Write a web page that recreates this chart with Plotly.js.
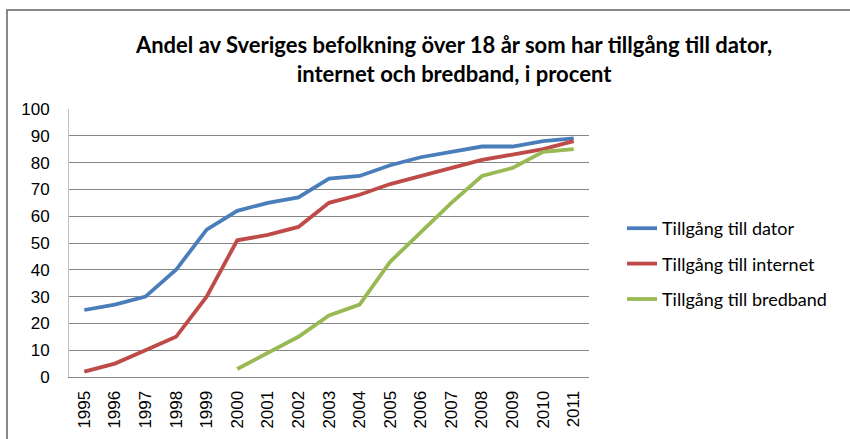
<!DOCTYPE html>
<html>
<head>
<meta charset="utf-8">
<script src="https://cdn.plot.ly/plotly-3.0.1.min.js"></script>
<style>html,body{margin:0;padding:0;background:#fff;}#chart{width:850px;height:439px;}</style>
</head>
<body>
<div id="chart"></div>
<script>
const years = ["1995","1996","1997","1998","1999","2000","2001","2002","2003","2004","2005","2006","2007","2008","2009","2010","2011"];
const dator = [25, 27, 30, 40, 55, 62, 65, 67, 74, 75, 79, 82, 84, 86, 86, 88, 89];
const internet = [2, 5, 10, 15, 30, 51, 53, 56, 65, 68, 72, 75, 78, 81, 83, 85, 88];
const bredbandYears = ["2000","2001","2002","2003","2004","2005","2006","2007","2008","2009","2010","2011"];
const bredband = [3, 9, 15, 23, 27, 43, 54, 65, 75, 78, 84, 85];
const seriesNames = ["Tillgång till dator", "Tillgång till internet", "Tillgång till bredband"];
const yTicks = [0,10,20,30,40,50,60,70,80,90,100];

const traces = [
  {x: years, y: dator, name: seriesNames[0], legendgroup: "a", line: {color: "#4A7EBB", width: 3.8}},
  {x: years, y: internet, name: seriesNames[1], legendgroup: "b", line: {color: "#BE4B48", width: 3.8}},
  {x: bredbandYears, y: bredband, name: seriesNames[2], legendgroup: "c", line: {color: "#98B954", width: 3.8}}
].map(t => Object.assign({type: "scatter", mode: "lines", hoverinfo: "skip"}, t));

const layout = {
  width: 850, height: 439,
  paper_bgcolor: "#ffffff", plot_bgcolor: "#ffffff",
  margin: {l: 69, r: 261, t: 109, b: 62},
  title: {
    text: "Andel av Sveriges befolkning över 18 år som har tillgång till dator,<br>internet och bredband, i procent",
    font: {family: "Lato, 'Open Sans', sans-serif", size: 22, color: "#000", weight: "bold"},
    x: 454/850, xref: "container", xanchor: "center",
    y: 1 - 53/439, yref: "container", yanchor: "top"
  },
  xaxis: {
    type: "category", categoryorder: "array", categoryarray: years,
    range: [-0.5, years.length - 0.5],
    tickangle: -90, showgrid: false, zeroline: false,
    showline: true, linecolor: "#868686", linewidth: 1,
    ticks: "", ticklabelstandoff: 6,
    tickfont: {family: "'Liberation Sans', Arial, sans-serif", size: 17, color: "#000"},
    fixedrange: true
  },
  yaxis: {
    range: [0, 100], tickvals: yTicks, ticktext: yTicks.map(String),
    showgrid: true, gridcolor: "#868686", gridwidth: 1,
    zeroline: false, showline: true, linecolor: "#BFBFBF", linewidth: 1,
    ticks: "", ticklabelstandoff: 15,
    tickfont: {family: "'Liberation Sans', Arial, sans-serif", size: 17, color: "#000"},
    fixedrange: true
  },
  showlegend: true,
  legend: {
    x: 622/850, xref: "container", xanchor: "left",
    y: 1 - 210/439, yref: "container", yanchor: "top",
    font: {family: "Lato, 'Open Sans', sans-serif", size: 18, color: "#000"},
    tracegroupgap: 9, traceorder: "grouped",
    bgcolor: "rgba(0,0,0,0)", itemwidth: 30
  },
  shapes: [{
    type: "rect", xref: "paper", yref: "paper",
    x0: (7 - 69)/520, x1: (860 - 69)/520,
    y0: -(450 - 377)/268, y1: 1 + (109 - 10)/268,
    line: {color: "#888888", width: 2}, fillcolor: "rgba(0,0,0,0)", layer: "below"
  }]
};

Plotly.newPlot("chart", traces, layout, {staticPlot: true, displayModeBar: false});
</script>
</body>
</html>
